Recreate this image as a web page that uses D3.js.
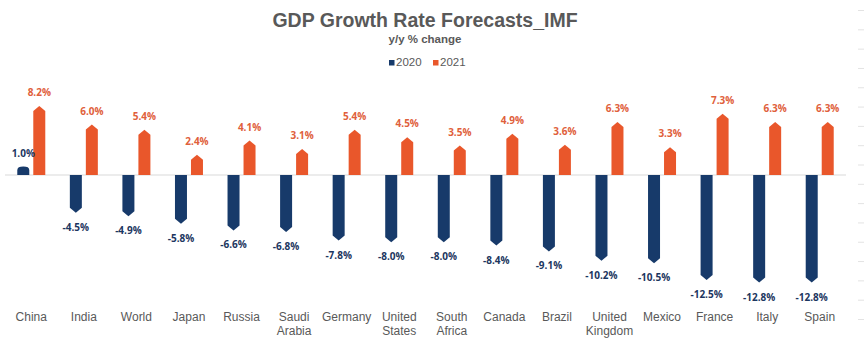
<!DOCTYPE html>
<html>
<head>
<meta charset="utf-8">
<script src="https://cdn.jsdelivr.net/npm/d3@7"></script>
<style>
  html, body { margin: 0; padding: 0; background: #fff; }
  svg { display: block; }
</style>
</head>
<body>
<svg id="chart"></svg>
<script>
(function() {
    'use strict';

    // IMF GDP growth forecasts, y/y % change
    const countries = [
        ['China'], ['India'], ['World'], ['Japan'], ['Russia'], ['Saudi', 'Arabia'],
        ['Germany'], ['United', 'States'], ['South', 'Africa'], ['Canada'], ['Brazil'],
        ['United', 'Kingdom'], ['Mexico'], ['France'], ['Italy'], ['Spain']
    ];
    const growth2020 = [1.0, -4.5, -4.9, -5.8, -6.6, -6.8, -7.8, -8.0, -8.0, -8.4, -9.1, -10.2, -10.5, -12.5, -12.8, -12.8];
    const growth2021 = [8.2, 6.0, 5.4, 2.4, 4.1, 3.1, 5.4, 4.5, 3.5, 4.9, 3.6, 6.3, 3.3, 7.3, 6.3, 6.3];
    const seriesNames = ['2020', '2021'];

    const config = {
        width: 865,
        height: 340,
        colors: { '2020': '#173a6a', '2021': '#e9572b' },
        labelColors: { '2020': '#1c3660', '2021': '#e0603b' },
        textGrey: '#595959'
    };

    const svg = d3.select('#chart')
        .attr('width', config.width)
        .attr('height', config.height)
        .style('font-family', '"Liberation Sans", Arial, sans-serif');

    // Title block
    svg.append('text')
        .attr('x', 425).attr('y', 27)
        .attr('text-anchor', 'middle')
        .attr('font-size', '19.5px')
        .attr('font-weight', 'bold')
        .attr('fill', config.textGrey)
        .text('GDP Growth Rate Forecasts_IMF');

    svg.append('text')
        .attr('x', 425).attr('y', 43)
        .attr('text-anchor', 'middle')
        .attr('font-size', '11.5px')
        .attr('font-weight', 'bold')
        .attr('fill', config.textGrey)
        .text('y/y % change');

    // Legend
    const legend = svg.append('g').attr('transform', 'translate(389,66)');
    seriesNames.forEach((name, i) => {
        const item = legend.append('g').attr('transform', `translate(${i * 44},0)`);
        item.append('rect')
            .attr('x', 0).attr('y', -6)
            .attr('width', 5.5).attr('height', 5.5)
            .attr('fill', config.colors[name]);
        item.append('text')
            .attr('x', 7).attr('y', 0)
            .attr('font-size', '11.5px')
            .attr('fill', config.textGrey)
            .text(name);
    });

    // Scales
    const x = d3.scaleBand()
        .domain(d3.range(countries.length))
        .range([5, 846]);

    const y = d3.scaleLinear()
        .domain([-15, 10])
        .range([301, 91]);

    const barW = 12;
    const gap = 4;
    const offsets = { '2020': -gap / 2 - barW, '2021': gap / 2 };

    // Zero line
    svg.append('line')
        .attr('x1', x.range()[0]).attr('x2', x.range()[1])
        .attr('y1', y(0)).attr('y2', y(0))
        .attr('stroke', '#d9d9d9')
        .attr('stroke-width', 1.2);

    // Pencil-shaped bar: body plus a pointed cap at the value end
    function barPath(x0, v) {
        const y0 = y(0);
        const yt = y(v);
        const len = Math.abs(yt - y0);
        const dir = v >= 0 ? -1 : 1;
        const cap = Math.min(5, len * 0.4);
        const yc = yt - dir * cap;
        const x1 = x0 + barW;
        const xm = x0 + barW / 2;
        if (len < 12) {
            // short bars get a rounded end
            return `M${x0},${y0} L${x0},${yc} Q${x0},${yt} ${xm},${yt} Q${x1},${yt} ${x1},${yc} L${x1},${y0} Z`;
        }
        return `M${x0},${y0} L${x0},${yc} L${xm},${yt} L${x1},${yc} L${x1},${y0} Z`;
    }

    const rows = countries.map((name, i) => ({
        i, name, '2020': growth2020[i], '2021': growth2021[i]
    }));

    const bars = svg.append('g').attr('class', 'bars');
    const labels = svg.append('g').attr('class', 'value-labels')
        .style('font-family', '"Open Sans", "DejaVu Sans", sans-serif')
        .attr('font-size', '10px')
        .attr('font-weight', 'bold')
        .attr('text-anchor', 'middle');

    seriesNames.forEach(s => {
        bars.selectAll(`path.s${s}`)
            .data(rows)
            .enter()
            .append('path')
            .attr('class', `s${s}`)
            .attr('d', d => barPath(x(d.i) + x.bandwidth() / 2 + offsets[s], d[s]))
            .attr('fill', config.colors[s]);

        labels.selectAll(`text.s${s}`)
            .data(rows)
            .enter()
            .append('text')
            .attr('class', `s${s}`)
            .attr('x', d => x(d.i) + x.bandwidth() / 2 + offsets[s] + barW / 2)
            .attr('y', d => d[s] >= 0 ? y(d[s]) - 10 : y(d[s]) + 18)
            .attr('fill', config.labelColors[s])
            .text(d => d[s].toFixed(1) + '%');
    });

    // Category labels
    const cats = svg.append('g').attr('class', 'categories')
        .attr('font-size', '12px')
        .attr('fill', config.textGrey)
        .attr('text-anchor', 'middle');

    cats.selectAll('text')
        .data(rows)
        .enter()
        .append('text')
        .attr('x', d => x(d.i) + x.bandwidth() / 2)
        .attr('y', 321)
        .each(function(d) {
            d3.select(this).selectAll('tspan')
                .data(d.name)
                .enter()
                .append('tspan')
                .attr('x', x(d.i) + x.bandwidth() / 2)
                .attr('dy', (t, k) => k === 0 ? 0 : 13.5)
                .text(t => t);
        });

    // Faint tick column along the right edge
    const edge = d3.scaleLinear().domain([0, 16]).range([10, 319]);
    const edgeAxis = svg.append('g')
        .attr('transform', 'translate(864,0)')
        .call(d3.axisLeft(edge).ticks(16).tickSize(6).tickFormat(''));
    edgeAxis.select('.domain').remove();
    edgeAxis.selectAll('line').attr('stroke', '#e3e3e3');
})();
</script>
</body>
</html>
